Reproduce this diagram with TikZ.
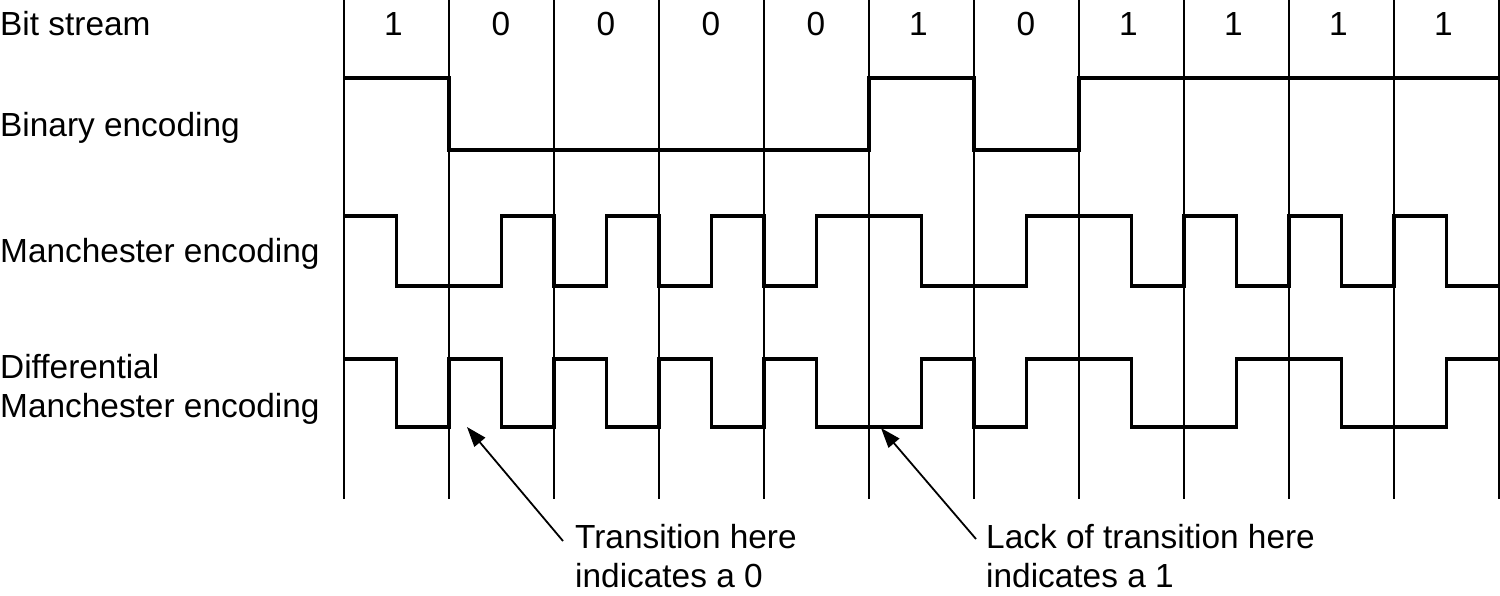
\documentclass[tikz,border=0pt]{standalone}
\usepackage{fontspec}
\setmainfont{Liberation Sans}
\usetikzlibrary{arrows.meta}
\begin{document}
\begin{tikzpicture}[x=1pt,y=-1pt,
  lbl/.style={anchor=base west,inner sep=0pt,font=\fontsize{33.4}{39}\selectfont,align=left},
  bitlbl/.style={anchor=base,inner sep=0pt,font=\fontsize{33.4}{39}\selectfont},
  grid/.style={line width=1.8pt,black},
  sig/.style={line width=3.8pt,black,line join=miter,line cap=butt},
  pointer/.style={line width=1.8pt,-{Triangle[length=20pt,width=14pt]}}]
\useasboundingbox (0,0) rectangle (1500,595);
% grid lines
\foreach \i in {0,...,11}{
  \draw[grid] ({344+105*\i},0) -- ({344+105*\i},499);
}
% row labels
\node[lbl] (bs) at (0,35) {Bit stream};
\node[lbl] (be) at (0,136) {Binary encoding};
\node[lbl] (me) at (0,262) {Manchester encoding};
\node[lbl,anchor=north west] (dme) at (0,{379-0.75*33.4}) {Differential\\Manchester encoding};
% bits
\foreach \b [count=\i from 0] in {1,0,0,0,0,1,0,1,1,1,1}{
  \pgfmathsetmacro{\sh}{\b==1 ? -3 : -0.5}
  \node[bitlbl] (bit\i) at ({396.5+105*\i+\sh},35) {\b};
}
% binary encoding
\draw[sig] (344,78) -- (449,78) -- (449,150) -- (869,150) -- (869,78) -- (974,78)
  -- (974,150) -- (1079,150) -- (1079,78) -- (1500,78);
% manchester
\def\H{216}\def\L{286}
\draw[sig] (344,\H) -- (396.5,\H) -- (396.5,\L) -- (501.5,\L) -- (501.5,\H) -- (554,\H)
  -- (554,\L) -- (606.5,\L) -- (606.5,\H) -- (659,\H) -- (659,\L) -- (711.5,\L)
  -- (711.5,\H) -- (764,\H) -- (764,\L) -- (816.5,\L) -- (816.5,\H) -- (921.5,\H)
  -- (921.5,\L) -- (1026.5,\L) -- (1026.5,\H) -- (1131.5,\H) -- (1131.5,\L) -- (1184,\L)
  -- (1184,\H) -- (1236.5,\H) -- (1236.5,\L) -- (1289,\L) -- (1289,\H) -- (1341.5,\H)
  -- (1341.5,\L) -- (1394,\L) -- (1394,\H) -- (1446.5,\H) -- (1446.5,\L) -- (1500,\L);
% differential manchester
\def\H{359}\def\L{427}
\draw[sig] (344,\H) -- (396.5,\H) -- (396.5,\L) -- (449,\L) -- (449,\H) -- (501.5,\H)
  -- (501.5,\L) -- (554,\L) -- (554,\H) -- (606.5,\H) -- (606.5,\L) -- (659,\L)
  -- (659,\H) -- (711.5,\H) -- (711.5,\L) -- (764,\L) -- (764,\H) -- (816.5,\H)
  -- (816.5,\L) -- (921.5,\L) -- (921.5,\H) -- (974,\H) -- (974,\L) -- (1026.5,\L)
  -- (1026.5,\H) -- (1131.5,\H) -- (1131.5,\L) -- (1236.5,\L) -- (1236.5,\H) -- (1341.5,\H)
  -- (1341.5,\L) -- (1446.5,\L) -- (1446.5,\H) -- (1500,\H);
% annotations
\node[lbl,anchor=north west] (ann0) at (575,{549-0.75*33.4}) {Transition here\\indicates a 0};
\node[lbl,anchor=north west] (ann1) at (986,{549-0.75*33.4}) {Lack of transition here\\indicates a 1};
\coordinate (tail0) at (563,541);
\coordinate (tip0) at (467,427);
\coordinate (tail1) at (976,539);
\coordinate (tip1) at (881,428);
\draw[pointer] (tail0) -- (tip0);
\draw[pointer] (tail1) -- (tip1);
\end{tikzpicture}
\end{document}
